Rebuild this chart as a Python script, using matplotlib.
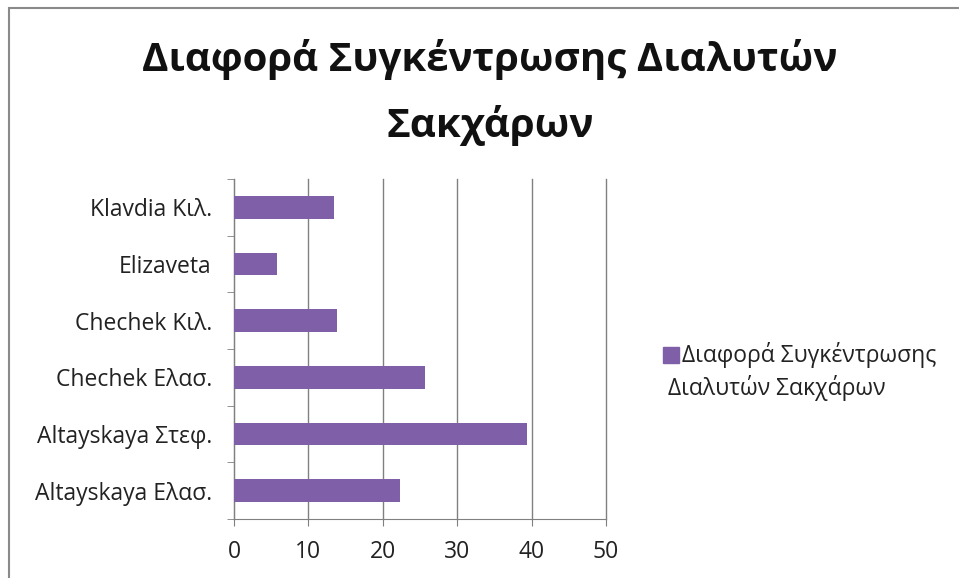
import matplotlib.pyplot as plt
from matplotlib.patches import Rectangle

plt.rcParams['font.family'] = ['Open Sans', 'DejaVu Sans']

categories = ['Altayskaya Ελασ.', 'Altayskaya Στεφ.', 'Chechek Ελασ.',
              'Chechek Κιλ.', 'Elizaveta', 'Klavdia Κιλ.']
values = [22.3, 39.4, 25.7, 13.9, 5.8, 13.4]
series_lines = ['Διαφορά Συγκέντρωσης', 'Διαλυτών Σακχάρων']
title_lines = ['Διαφορά Συγκέντρωσης Διαλυτών', 'Σακχάρων']
xticks = [0, 10, 20, 30, 40, 50]

W, H = 959, 578
bar_color = '#7f5fa8'
fig = plt.figure(figsize=(W / 100, H / 100), dpi=100)

# chart frame (only top/left edge visible in the crop)
fig.patches.append(Rectangle((9 / W, -0.05), 1.1, 1 - 8 / H + 0.05,
                             transform=fig.transFigure, fill=False,
                             edgecolor='#8a8a8a', linewidth=1.5))

ax = fig.add_axes([234 / W, 1 - 519 / H, (606 - 234) / W, (519 - 179) / H])
ax.barh(range(len(categories)), values, height=0.4, color=bar_color, zorder=3)

ax.set_xlim(0, 50)
ax.set_ylim(-0.5, len(categories) - 0.5)
ax.set_xticks(xticks)
ax.set_xticklabels([str(t) for t in xticks], fontsize=16.5, color='#222222')
ax.set_yticks(range(len(categories)))
ax.set_yticklabels(categories, fontsize=16.5, color='#222222')
ax.set_yticks([i - 0.5 for i in range(len(categories) + 1)], minor=True)
ax.tick_params(axis='y', which='major', length=0, pad=16)
ax.tick_params(axis='y', which='minor', length=5, color='#808080')
ax.tick_params(axis='x', length=5, color='#808080', pad=10)
ax.grid(axis='x', color='#808080', linewidth=1, zorder=0)
for l in ax.get_xgridlines():
    l.set_clip_on(False)
for s in ['top', 'right']:
    ax.spines[s].set_visible(False)
for s in ['left', 'bottom']:
    ax.spines[s].set_color('#808080')

fig.text(490 / W, 1 - 60 / H, title_lines[0], ha='center', va='center',
         fontsize=29, fontweight='bold', color='#111111')
fig.text(490 / W, 1 - 125 / H, title_lines[1], ha='center', va='center',
         fontsize=29, fontweight='bold', color='#111111')

# legend, wrapped like the original (second line starts under the marker)
fig.patches.append(Rectangle((663 / W, 1 - 363 / H), 16 / W, 16 / H,
                             transform=fig.transFigure, color=bar_color))
fig.text(682 / W, 1 - 355 / H, series_lines[0], ha='left', va='center',
         fontsize=16.5, color='#222222')
fig.text(668 / W, 1 - 388 / H, series_lines[1], ha='left', va='center',
         fontsize=16.5, color='#222222')

fig.savefig('out.png', dpi=100)
